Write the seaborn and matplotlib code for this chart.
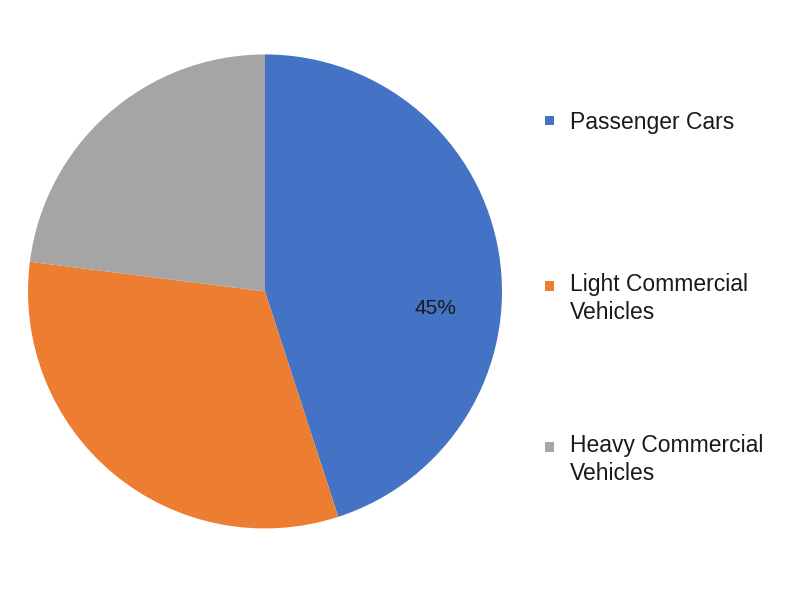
# Vehicle segment share pie chart
import matplotlib
matplotlib.use("Agg")
import matplotlib.pyplot as plt
from matplotlib.patches import Rectangle
from matplotlib.legend_handler import HandlerPatch
import seaborn as sns

# Data
segments = ["Passenger Cars", "Light Commercial\nVehicles", "Heavy Commercial\nVehicles"]
shares = [45, 32, 23]
colors = ["#4472C4", "#ED7D31", "#A5A5A5"]

sns.set_style("white")
plt.rcParams['font.family'] = ['Liberation Sans', 'DejaVu Sans']

fig = plt.figure(figsize=(8, 6.11), dpi=100)
ax = fig.add_axes([0.035, 0.135, 0.5925, 0.776])

wedges, texts, autotexts = ax.pie(shares, colors=colors, startangle=90, counterclock=False,
                                  autopct='%1.0f%%', pctdistance=0.72,
                                  wedgeprops=dict(linewidth=0),
                                  textprops=dict(fontsize=15, color='#1a1a1a'))
# Only the biggest slice gets a label
for i, t in enumerate(autotexts):
    if i == 0:
        t.set_position((0.72, -0.07))
    else:
        t.set_visible(False)

ax.set_xlim(-1, 1)
ax.set_ylim(-1, 1)
ax.set_aspect('equal')


# square marker next to the first line of the label
def square_handler(shift):
    def make(legend, orig_handle, xdescent, ydescent, width, height, fontsize):
        y0 = -ydescent + (height - width) / 2 + shift
        return Rectangle((-xdescent, y0), width, width)
    return HandlerPatch(patch_func=make)


# one legend per entry so the spacing matches
legend_y = [0.8, 0.5115, 0.248]
for w, lab, y in zip(wedges, segments, legend_y):
    shift = 9.7 if "\n" in lab else 0
    leg = fig.legend([w], [lab], loc='center left', bbox_to_anchor=(0.681, y),
                     frameon=False, fontsize=16.5, handlelength=0.42, handleheight=0.7,
                     handletextpad=0.68, borderpad=0, borderaxespad=0,
                     handler_map={w: square_handler(shift)})
    for t in leg.get_texts():
        t.set_linespacing(1.25)
        t.set_color('#1a1a1a')

fig.savefig("out.png", dpi=100, facecolor='white')
